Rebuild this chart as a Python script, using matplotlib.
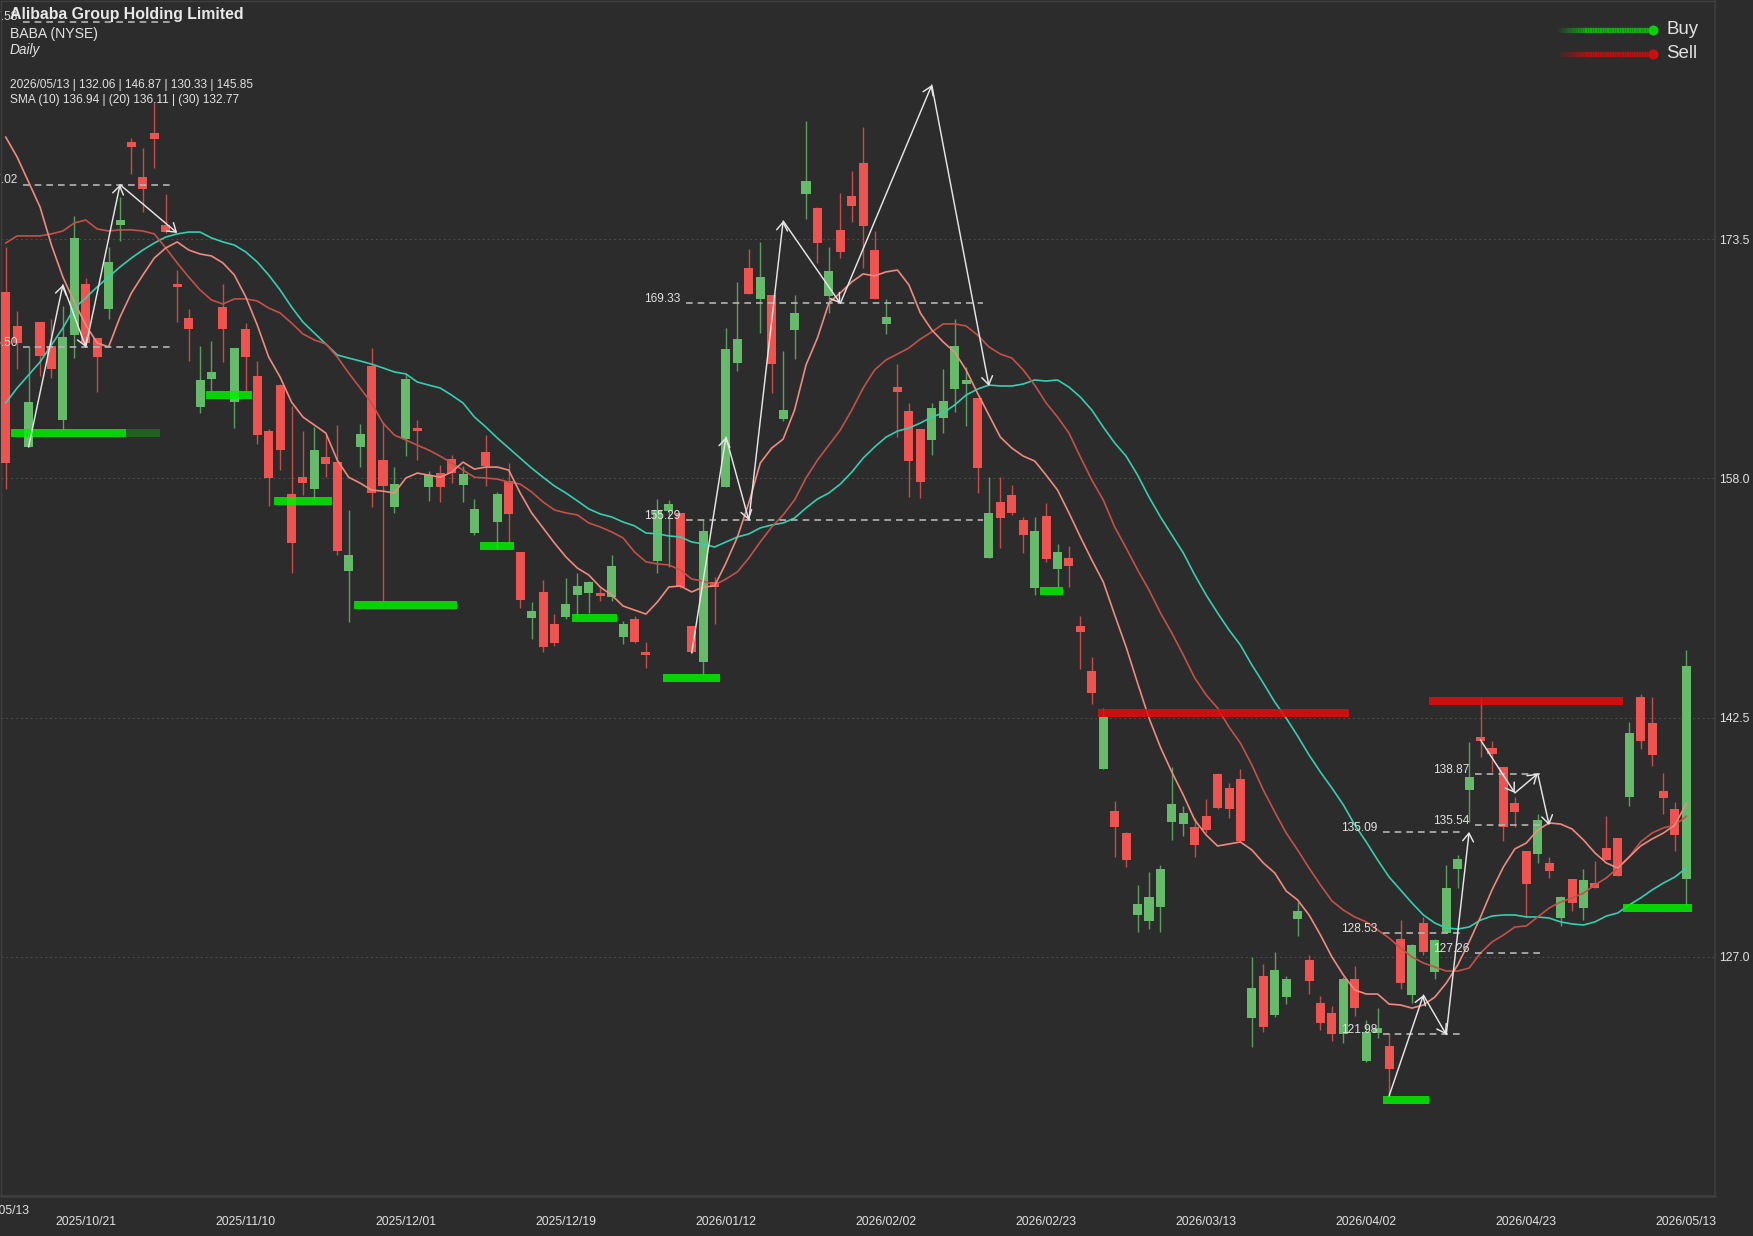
import matplotlib
matplotlib.use("Agg")
import matplotlib.pyplot as plt
import numpy as np
from matplotlib.collections import LineCollection
from matplotlib.lines import Line2D

W, H = 1753, 1236
BG = "#2c2c2c"
TXT = "#e2e2e2"
plt.rcParams["font.family"] = ["Liberation Sans", "DejaVu Sans"]

opens = [
 170.07,167.87,160.03,168.12,166.57,161.77,167.28,170.59,167.09,168.97,
 174.41,179.78,177.51,180.36,174.41,170.59,168.38,162.62,164.44,169.10,
 162.94,167.67,164.63,161.06,164.04,156.99,158.07,157.30,159.38,159.05,
 152.00,160.03,165.27,159.18,156.15,160.54,161.26,157.43,158.34,159.25,
 157.56,154.46,159.70,155.17,157.82,153.23,148.95,150.64,148.57,149.02,
 150.44,150.57,150.57,150.32,147.72,148.89,146.75,152.65,155.89,155.76,
 148.44,146.11,151.29,157.43,165.47,171.62,169.62,169.88,161.84,167.61,
 176.42,175.51,169.81,174.09,176.29,178.42,172.79,168.00,163.91,162.36,
 161.19,160.48,161.90,163.78,164.11,163.20,152.84,156.47,156.91,155.30,
 150.90,155.56,152.13,152.84,148.44,145.52,139.17,136.46,135.03,129.72,
 129.33,130.24,135.74,135.61,135.42,136.13,138.85,137.94,138.52,123.04,
 125.76,123.24,124.40,129.46,126.80,124.02,123.37,122.01,125.57,120.26,
 122.07,121.23,128.16,124.53,129.20,126.02,128.55,132.70,137.81,141.24,
 140.53,139.30,136.98,133.87,133.67,133.09,129.52,132.05,130.17,131.79,
 134.06,134.71,137.36,143.84,142.15,137.75,136.59,132.06]
highs = [
 172.99,168.84,166.51,168.12,168.32,169.16,174.99,170.98,167.09,172.99,
 176.21,180.04,179.39,182.37,176.42,171.49,168.97,166.57,166.90,170.59,
 166.44,168.06,165.60,161.19,164.11,162.68,161.06,161.32,160.80,161.45,
 155.95,161.52,166.44,161.64,158.73,164.82,161.77,158.47,158.86,159.51,
 158.79,156.66,160.80,157.12,158.99,153.23,149.99,151.42,149.21,151.55,
 151.87,151.35,150.90,153.04,148.76,149.08,147.40,156.66,156.60,155.76,
 148.44,155.30,151.61,167.74,170.72,172.86,173.31,169.88,166.25,169.88,
 181.14,175.58,172.99,176.48,177.90,180.75,174.02,169.62,165.40,162.88,
 161.19,162.88,165.08,168.32,165.21,163.20,158.07,158.07,157.56,155.50,
 155.50,156.41,153.75,153.62,149.08,146.43,143.12,137.11,135.10,131.66,
 132.50,132.96,139.30,136.78,136.00,137.23,138.91,138.26,139.17,127.00,
 126.54,127.32,125.76,130.56,127.13,124.47,123.82,125.70,126.41,122.91,
 123.69,122.07,129.39,127.84,129.59,128.16,132.96,133.61,140.92,143.84,
 140.98,139.30,137.36,133.87,136.26,133.48,130.95,132.05,132.70,133.22,
 136.13,134.71,142.21,144.03,143.84,138.91,137.04,146.87]
lows = [
 157.30,165.08,160.03,164.63,164.49,161.13,165.79,166.64,163.59,168.32,
 173.37,177.70,175.25,178.09,173.89,168.12,165.60,162.23,163.66,165.53,
 161.26,163.66,160.22,156.21,158.53,151.87,156.91,156.60,158.07,153.04,
 148.69,158.73,156.15,150.06,155.76,159.44,159.18,156.54,156.47,157.69,
 156.47,154.33,157.50,153.42,153.81,149.60,147.59,146.75,147.14,148.89,
 149.02,149.28,150.06,150.06,147.27,147.33,145.72,151.87,152.26,150.90,
 146.69,145.33,148.57,157.43,164.95,169.94,167.41,163.52,161.71,165.73,
 174.80,171.95,168.71,172.27,174.60,171.62,169.62,167.35,160.67,156.79,
 156.73,159.51,160.93,162.29,161.39,157.05,152.84,153.49,155.63,153.17,
 150.44,152.59,150.96,150.96,145.66,143.38,139.17,133.48,132.83,128.62,
 128.81,128.62,134.58,134.84,133.48,135.03,136.59,136.00,134.51,121.17,
 122.14,123.11,123.95,128.36,124.60,122.27,121.55,121.42,123.17,120.19,
 121.75,117.99,124.92,124.02,127.13,125.57,128.55,131.47,135.74,139.95,
 138.97,134.51,135.42,129.59,133.09,132.12,129.01,129.98,129.39,131.47,
 133.28,132.25,136.78,140.47,139.36,136.26,133.87,130.33]
closes = [
 158.99,166.77,162.94,165.92,165.08,167.15,173.57,166.77,165.86,172.01,
 174.73,179.45,176.73,179.97,173.95,170.40,167.67,164.37,164.89,167.67,
 166.44,165.86,160.80,158.00,159.83,153.81,157.69,159.83,158.92,153.30,
 153.04,160.87,157.05,157.50,157.62,164.44,161.06,158.21,157.43,158.34,
 158.27,156.02,158.79,156.99,155.69,150.12,149.41,147.07,147.33,149.86,
 151.03,151.29,150.38,152.33,148.57,147.40,146.56,155.95,156.34,150.96,
 146.75,154.59,150.96,166.38,167.03,169.94,171.05,165.40,162.42,168.71,
 177.25,173.24,171.43,172.66,175.64,174.34,169.62,168.45,163.59,159.12,
 157.76,162.55,163.00,166.57,164.37,158.66,155.76,155.43,155.76,154.33,
 154.59,152.78,153.23,152.33,148.05,144.09,142.54,135.42,133.28,130.43,
 130.88,132.70,136.91,136.33,134.25,135.23,136.65,136.59,134.51,124.99,
 122.46,126.15,125.57,129.98,125.44,122.72,122.01,125.57,123.69,122.14,
 122.40,119.74,125.31,127.77,127.32,128.10,131.47,133.35,138.65,140.98,
 140.14,135.42,136.39,131.73,135.87,132.57,130.88,130.50,131.99,131.47,
 133.28,132.25,141.50,140.98,140.08,137.30,134.90,145.85]

sma10 = [
 180.10,178.81,177.19,175.58,173.11,171.04,169.42,167.93,166.77,166.51,
 168.45,170.01,171.17,172.27,172.92,173.31,172.79,172.53,172.40,171.95,
 171.17,169.75,167.93,165.86,164.56,162.94,161.97,161.45,160.93,159.18,
 158.07,157.69,157.24,157.17,157.05,158.02,158.34,158.21,158.07,158.40,
 159.05,158.60,158.73,158.73,158.53,157.05,155.76,154.79,153.81,152.91,
 152.19,151.74,150.96,150.44,149.73,149.47,149.21,149.99,150.96,151.03,
 150.64,150.96,151.03,152.52,154.20,156.41,158.99,159.96,160.54,162.42,
 165.34,167.09,169.36,170.01,170.72,171.24,171.11,171.37,171.49,170.53,
 168.71,167.61,166.83,166.18,165.02,163.52,162.10,160.67,159.96,159.44,
 159.12,158.21,157.24,155.76,154.20,152.71,151.29,149.15,147.07,144.74,
 142.47,140.59,138.97,137.49,135.87,134.90,134.19,134.32,134.45,133.93,
 133.09,132.44,131.27,130.69,129.72,128.42,127.00,125.83,124.86,124.60,
 124.60,123.95,123.89,123.69,123.89,124.40,125.31,126.48,127.97,129.59,
 131.34,132.83,134.00,134.38,135.23,135.68,135.61,135.29,134.58,133.74,
 133.09,132.76,133.48,134.19,134.64,135.03,135.55,136.94]
sma20 = [
 173.24,173.70,173.70,173.70,173.83,174.02,174.54,174.73,174.15,174.02,
 174.09,174.09,174.02,173.83,172.92,171.95,171.04,170.20,169.55,169.29,
 169.62,169.62,169.49,169.03,168.71,168.06,167.35,166.96,166.70,165.86,
 164.82,163.85,162.88,161.58,160.80,160.48,160.15,159.83,159.44,158.99,
 158.53,158.07,158.02,157.95,157.76,157.63,157.12,156.47,155.95,155.76,
 155.63,155.11,154.85,154.53,154.14,153.23,152.59,152.46,152.39,152.07,
 151.48,151.35,151.09,151.48,151.94,152.84,153.88,154.85,155.63,156.60,
 158.02,159.18,160.15,161.13,162.42,163.85,165.02,165.67,166.05,166.44,
 167.02,167.48,168.00,168.00,167.87,167.28,166.51,166.05,165.79,165.02,
 164.04,162.88,161.97,160.93,159.38,157.89,156.60,154.85,153.49,152.07,
 150.77,149.28,147.98,146.56,145.07,143.97,143.12,141.89,140.85,139.43,
 137.81,136.39,135.03,133.93,132.76,131.66,130.63,130.04,129.59,129.27,
 128.75,128.23,127.58,127.00,126.61,126.35,126.09,126.09,126.28,127.26,
 127.97,128.42,128.94,129.01,129.59,130.17,130.56,130.82,131.14,131.66,
 132.12,132.76,133.48,134.45,135.03,135.36,135.55,136.11]
sma30 = [
 162.88,163.85,164.69,165.53,166.64,167.74,169.03,169.68,170.40,171.04,
 171.69,172.27,172.79,173.24,173.63,173.83,173.95,173.95,173.57,173.31,
 173.11,172.66,172.01,171.17,170.20,169.10,168.12,167.41,166.70,165.99,
 165.79,165.60,165.40,165.15,164.89,164.76,164.24,164.04,163.85,163.39,
 162.88,161.97,161.32,160.61,159.96,159.31,158.66,158.07,157.50,157.05,
 156.54,156.02,155.69,155.50,155.17,154.92,154.46,154.40,154.27,154.20,
 153.88,153.75,153.55,153.88,154.20,154.40,154.79,154.98,155.11,155.43,
 156.08,156.66,157.05,157.63,158.40,159.31,160.03,160.67,161.06,161.26,
 161.58,161.97,162.23,162.75,163.39,163.78,164.04,163.98,163.98,164.11,
 164.37,164.30,164.37,163.91,163.26,162.42,161.32,160.29,159.44,158.21,
 156.79,155.50,154.33,153.17,151.74,150.44,149.28,148.18,147.20,145.91,
 144.74,143.51,142.47,141.31,140.08,138.97,137.94,136.85,135.55,134.45,
 133.28,132.18,131.34,130.50,129.72,129.20,128.88,128.81,128.94,129.39,
 129.65,129.72,129.72,129.59,129.59,129.52,129.27,129.14,129.07,129.27,
 129.65,129.85,130.37,130.82,131.34,131.79,132.18,132.77]

date_tick_bars = [7, 21, 35, 49, 63, 77, 91, 105, 119, 133, 147]
date_labels = ["2025/10/21","2025/11/10","2025/12/01","2025/12/19","2026/01/12",
               "2026/02/02","2026/02/23","2026/03/13","2026/04/02","2026/04/23","2026/05/13"]
price_ticks = [127.0, 142.5, 158.0, 173.5]

zigzags = [
 ([2, 5, 7, 10, 15], [160.03, 170.53, 166.51, 177.02, 173.89]),
 ([60, 63, 65, 68, 73, 81, 86], [146.69, 160.67, 155.29, 174.67, 169.33, 183.47, 163.98]),
 ([121, 124, 126, 128], [118.00, 124.53, 121.98, 135.10]),
 ([129, 132, 134, 135], [141.05, 137.62, 138.87, 135.54]),
]
level_prices = [187.58, 177.02, 166.50, 169.33, 155.29, 135.09, 128.53, 121.98, 138.87, 135.54, 127.26]
level_starts = [1.5, 1.5, 1.5, 59.5, 59.5, 120.5, 120.5, 120.5, 128.5, 128.5, 128.5]
level_ends = [14.5, 14.5, 14.5, 85.5, 85.5, 127.3, 127.3, 127.3, 134.5, 134.5, 134.5]

buy_prices = [160.94, 163.40, 156.53, 149.80, 153.62, 148.95, 145.07, 150.70, 117.74, 130.17]
buy_starts = [0.5, 17.5, 23.5, 30.5, 41.5, 49.5, 57.5, 90.5, 120.5, 141.5]
buy_ends = [10.5, 21.5, 28.5, 39.5, 44.5, 53.5, 62.5, 92.5, 124.5, 147.5]
buy_tail_price = [160.94]
buy_tail_start = [10.5]
buy_tail_end = [13.5]
sell_prices = [142.80, 143.58]
sell_starts = [95.5, 124.5]
sell_ends = [117.5, 141.5]

fig = plt.figure(figsize=(W/100, H/100), dpi=100, facecolor=BG)
AX_L, AX_T, AX_R, AX_B = 1.0, 1.0, 1715.0, 1196.0
ax = fig.add_axes([AX_L/W, 1-AX_B/H, (AX_R-AX_L)/W, (AX_B-AX_T)/H], facecolor=BG)
BAR_PX, BAR0_PX = 11.433, 5.7
PX_PER_USD, Y0_PRICE = 15.44, 188.98
ax.set_xlim((AX_L-BAR0_PX)/BAR_PX, (AX_R-BAR0_PX)/BAR_PX)
ax.set_ylim(Y0_PRICE-AX_B/PX_PER_USD, Y0_PRICE-AX_T/PX_PER_USD)

x = np.arange(len(closes))
o, h, l, c = map(np.array, (opens, highs, lows, closes))
up = c >= o
GREEN, RED = "#66bb6a", "#ef5350"
cols = np.where(up, GREEN, RED)

ax.set_yticks(price_ticks)
ax.set_yticklabels([f"{v:.1f}" for v in price_ticks])
ax.grid(axis="y", color="#4c4c4c", lw=0.7, ls=(0, (2, 3)), zorder=0)
ax.yaxis.tick_right()
ax.tick_params(axis="y", length=0, pad=3, labelsize=8.7, labelcolor=TXT)
ax.set_xticks(date_tick_bars)
ax.set_xticklabels(date_labels)
ax.tick_params(axis="x", length=0, pad=14.5, labelsize=8.7, labelcolor=TXT)
for s, lw in (("left", 1.0), ("top", 1.0), ("right", 1.2), ("bottom", 1.8)):
    ax.spines[s].set_color("#3f3f3f")
    ax.spines[s].set_linewidth(lw)

ax.vlines(x, l, h, colors=cols, lw=1.0, alpha=0.8, zorder=2)
ax.bar(x, np.abs(c-o), bottom=np.minimum(o, c), width=0.79, color=cols, lw=0, zorder=3)

ax.plot(x, sma30, color="#35cfb0", lw=1.2, zorder=4)
ax.plot(x, sma20, color="#c4504a", lw=1.2, zorder=4)
ax.plot(x, sma10, color="#ee8a80", lw=1.2, zorder=4)

bar_h = 8 / PX_PER_USD
for p, a, b in zip(buy_prices, buy_starts, buy_ends):
    ax.fill_between([a, b], p-bar_h/2, p+bar_h/2, color=(0, 0.94, 0), alpha=0.85, lw=0, zorder=5)
for p, a, b in zip(buy_tail_price, buy_tail_start, buy_tail_end):
    ax.fill_between([a, b], p-bar_h/2, p+bar_h/2, color=(0, 0.94, 0), alpha=0.28, lw=0, zorder=5)
for p, a, b in zip(sell_prices, sell_starts, sell_ends):
    ax.fill_between([a, b], p-bar_h/2, p+bar_h/2, color=(0.9, 0.04, 0.04), alpha=0.85, lw=0, zorder=5)

for p, a, b in zip(level_prices, level_starts, level_ends):
    ax.plot([a, b], [p, p], color="#b4b4b4", lw=1.2, ls=(0, (4, 3)), zorder=6)
    ax.annotate(f"{p:.2f}", xy=(a, p), xytext=(-4, 3), textcoords="offset points",
                ha="right", va="center", fontsize=8.6, color=TXT, zorder=8)

for zx, zy in zigzags:
    for k in range(len(zx)-1):
        ax.annotate("", xy=(zx[k+1], zy[k+1]), xytext=(zx[k], zy[k]),
                    arrowprops=dict(arrowstyle="->,head_length=0.42,head_width=0.28", color="#e6e6e6",
                                    lw=1.05, mutation_scale=14, shrinkA=0, shrinkB=0), zorder=7)

def fx(px): return px / W
def fy(py): return 1 - py / H

fig.text(fx(10), fy(15), "Alibaba Group Holding Limited", fontsize=11.45, fontweight="bold",
         color="#e8e8e8", va="center", ha="left", zorder=10)
fig.text(fx(10), fy(34), "BABA (NYSE)", fontsize=10.1, color=TXT, va="center", ha="left", zorder=10)
fig.text(fx(10), fy(50), "Daily", fontsize=9.8, style="italic", color=TXT, va="center", ha="left", zorder=10)
fig.text(fx(10), fy(85), "2026/05/13 | 132.06 | 146.87 | 130.33 | 145.85", fontsize=8.6,
         color=TXT, va="center", ha="left", zorder=10)
fig.text(fx(10), fy(99.5), "SMA (10) 136.94 | (20) 136.11 | (30) 132.77", fontsize=8.6,
         color=TXT, va="center", ha="left", zorder=10)
fig.text(fx(29), fy(1211), "2025/05/13", fontsize=8.7, color=TXT, va="center", ha="right")

legend_items = [("Buy", 30, (0.08, 0.68, 0.08), "#0ad20a"), ("Sell", 54, (0.68, 0.08, 0.08), "#cf0f0f")]
for name, py, line_col, dot_col in legend_items:
    xs = np.linspace(1555, 1653, 41)
    segs = [[(fx(xs[k]), fy(py)), (fx(xs[k+1]), fy(py))] for k in range(40)]
    alphas = np.clip(np.linspace(0, 3.2, 40), 0, 1)
    lc = LineCollection(segs, colors=[(*line_col, a) for a in alphas], lw=3.8,
                        transform=fig.transFigure, capstyle="butt")
    fig.add_artist(lc)
    fig.add_artist(Line2D([fx(1653)], [fy(py)], marker="o", ms=7.2, color=dot_col, mew=0,
                          transform=fig.transFigure))
    fig.text(fx(1666), fy(py), name, fontsize=13.4, color=TXT, va="center", ha="left")

fig.savefig("out.png", dpi=100, facecolor=BG)
